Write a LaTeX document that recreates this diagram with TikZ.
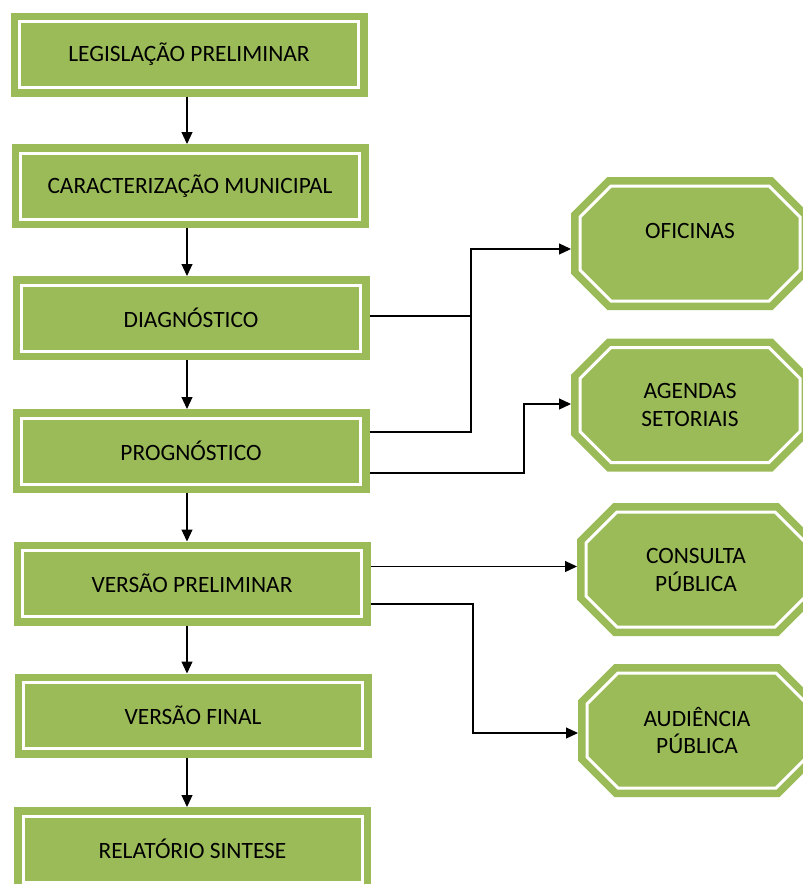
\documentclass[tikz,border=0pt]{standalone}
\usepackage{fontspec}
\setmainfont{Carlito}
\usetikzlibrary{arrows.meta,calc}
\definecolor{boxgreen}{HTML}{9BBB59}
\newcommand{\octshape}[1]{%
  \draw[oct] ($(#1)+(-79,-57.5)$) -- ($(#1)+(79,-57.5)$) -- ($(#1)+(110,-26.5)$) -- ($(#1)+(110,26.5)$)
    -- ($(#1)+(79,57.5)$) -- ($(#1)+(-79,57.5)$) -- ($(#1)+(-110,26.5)$) -- ($(#1)+(-110,-26.5)$) -- cycle;}
\tikzset{
  every node/.style={font=\fontsize{23.4}{28}\selectfont, text=black, align=center},
  box/.style={rectangle, fill=boxgreen, draw=boxgreen, double=white, line width=7.5pt,
    double distance=3pt, minimum width=339pt, minimum height=66pt, outer sep=9pt, inner sep=0pt},
  oct/.style={fill=boxgreen, draw=boxgreen, double=white, line width=7.5pt, double distance=3pt, line join=miter},
  octlabel/.style={rectangle, minimum width=238pt, minimum height=133pt, inner sep=0pt, outer sep=0pt},
  link/.style={line width=1.2pt},
  arr/.style={line width=1.2pt, -{Triangle[length=12pt,width=11pt]}},
}
\begin{document}
\begin{tikzpicture}[x=1pt,y=-1pt]
\useasboundingbox (0,0) rectangle (803,884);
\clip (0,0) rectangle (803,884);
% main column
\node[box] (b1) at (189,54.5) {LEGISLAÇÃO PRELIMINAR};
\node[box] (b2) at (190,186) {CARACTERIZAÇÃO MUNICIPAL};
\node[box] (b3) at (191,318) {DIAGNÓSTICO};
\node[box] (b4) at (191,451) {PROGNÓSTICO};
\node[box] (b5) at (192,583.5) {VERSÃO PRELIMINAR};
\node[box] (b6) at (193,715.5) {VERSÃO FINAL};
\node[box] (b7) at (192.5,849) {RELATÓRIO SINTESE};
% octagons
\coordinate (c1) at (690,243.5);
\coordinate (c2) at (690,405);
\coordinate (c3) at (696,569.5);
\coordinate (c4) at (697,730.5);
\octshape{c1}\octshape{c2}\octshape{c3}\octshape{c4}
\node[octlabel] (ofi) at (c1) {\raisebox{-3pt}{OFICINAS}\\\mbox{}};
\node[octlabel] (age) at (c2) {AGENDAS\\SETORIAIS};
\node[octlabel] (con) at (c3) {CONSULTA\\PÚBLICA};
\node[octlabel] (aud) at (c4) {AUDIÊNCIA\\PÚBLICA};
% vertical arrows
\coordinate (ax) at (187,0);
\draw[arr] (b1.south -| ax) -- (b2.north -| ax);
\draw[arr] (b2.south -| ax) -- (b3.north -| ax);
\draw[arr] (b3.south -| ax) -- (b4.north -| ax);
\draw[arr] (b4.south -| ax) -- (b5.north -| ax);
\draw[arr] (b5.south -| ax) -- (b6.north -| ax);
\draw[arr] (b6.south -| ax) -- (b7.north -| ax);
% side connectors
\coordinate (jo) at (471,249);
\coordinate (ja) at (524,404);
\coordinate (jc) at (473,733);
\coordinate (d3) at ($(b3.east)+(0,-2)$);
\coordinate (p4a) at ($(b4.east)+(0,-19)$);
\coordinate (p4b) at ($(b4.east)+(0,22)$);
\coordinate (v5a) at ($(b5.east)+(0,-17)$);
\coordinate (v5b) at ($(b5.east)+(0,20.5)$);
\draw[link] (d3) -- (d3 -| jo);
\draw[arr] (p4a) -| (jo) -- (jo -| ofi.west);
\draw[arr] (p4b) -| (ja) -- (ja -| age.west);
\draw[arr] (v5a) -- (v5a -| con.west);
\draw[arr] (v5b) -| (jc) -- (jc -| aud.west);
\end{tikzpicture}
\end{document}
